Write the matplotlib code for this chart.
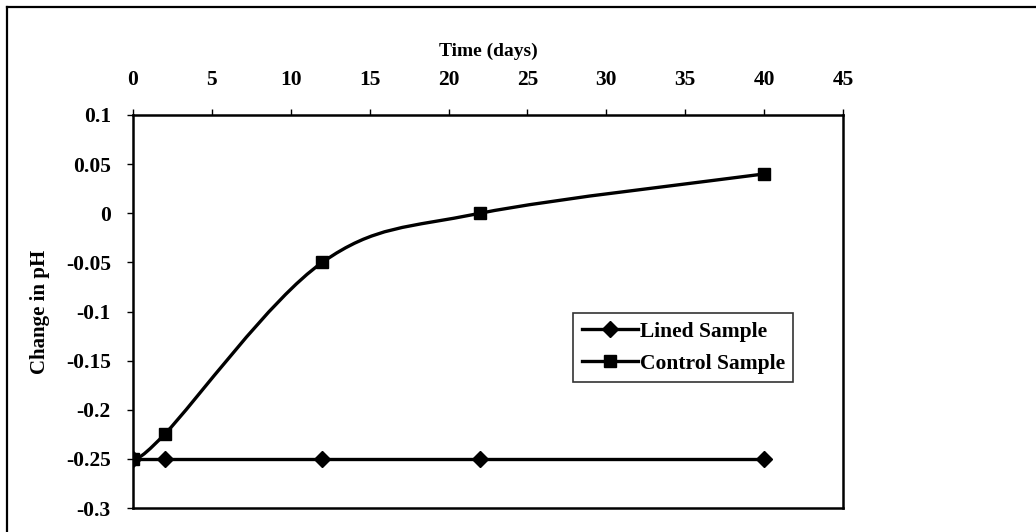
import numpy as np
import matplotlib
matplotlib.use('Agg')
import matplotlib.pyplot as plt
from matplotlib.path import Path
from matplotlib.patches import PathPatch
from matplotlib.lines import Line2D

# data
days = [0, 2, 12, 22, 40]
lined = [-0.25, -0.25, -0.25, -0.25, -0.25]
control = [-0.25, -0.225, -0.05, 0.0, 0.04]
x_ticks = [0, 5, 10, 15, 20, 25, 30, 35, 40, 45]
y_ticks = [0.1, 0.05, 0, -0.05, -0.1, -0.15, -0.2, -0.25, -0.3]
y_labels = ['0.1', '0.05', '0', '-0.05', '-0.1', '-0.15', '-0.2', '-0.25', '-0.3']

plt.rcParams['font.family'] = ['Liberation Serif', 'DejaVu Serif']
plt.rcParams['font.weight'] = 'bold'
plt.rcParams['axes.labelweight'] = 'bold'


def smooth_path(xs, ys):
    # excel-style smoothed line: catmull-rom converted to cubic beziers
    pts = np.column_stack([xs, ys]).astype(float)
    verts = [pts[0]]
    codes = [Path.MOVETO]
    n = len(pts)
    for i in range(n - 1):
        p0 = pts[i - 1] if i > 0 else pts[i]
        p1 = pts[i]
        p2 = pts[i + 1]
        p3 = pts[i + 2] if i + 2 < n else pts[i + 1]
        c1 = p1 + (p2 - p0) / 6
        c2 = p2 - (p3 - p1) / 6
        verts += [c1, c2, p2]
        codes += [Path.CURVE4] * 3
    return Path(verts, codes)


fig = plt.figure(figsize=(10.36, 5.32), dpi=100)
ax = fig.add_axes([133 / 1036, 1 - 508 / 532, 710 / 1036, 393 / 532])

ax.plot(days, lined, color='black', lw=2.4, marker='D', ms=8, label='Lined Sample', zorder=3)
ax.add_patch(PathPatch(smooth_path(days, control), facecolor='none', edgecolor='black', lw=2.4, zorder=3))
ax.plot(days, control, color='none', marker='s', ms=8, mfc='black', mec='black', zorder=4)

ax.set_xlim(0, 45)
ax.set_ylim(-0.3, 0.1)
ax.xaxis.tick_top()
ax.xaxis.set_label_position('top')
ax.set_xticks(x_ticks)
ax.set_yticks(y_ticks)
ax.set_yticklabels(y_labels)
ax.tick_params(axis='both', direction='out', length=4, width=1, labelsize=15.5)
ax.tick_params(axis='x', pad=14)
ax.tick_params(axis='y', pad=12)
ax.set_xlabel('Time (days)', fontsize=14, labelpad=10)
ax.set_ylabel('Change in pH', fontsize=15)
ax.yaxis.set_label_coords((50 - 133) / 710, 0.5)
for s in ax.spines.values():
    s.set_linewidth(1.8)

handles = [Line2D([], [], color='black', lw=2.4, marker='D', ms=8),
           Line2D([], [], color='black', lw=2.4, marker='s', ms=8)]
leg = ax.legend(handles, ['Lined Sample', 'Control Sample'], loc='upper left',
                bbox_to_anchor=((573 - 133) / 710, (508 - 313) / 393),
                fontsize=15.5, frameon=True, fancybox=False, edgecolor='black',
                handlelength=2.6, handletextpad=0.1, borderpad=0.4,
                labelspacing=0.55, borderaxespad=0)
leg.get_frame().set_linewidth(1.2)

# outer chart border (cut off at right and bottom)
fig.add_artist(Line2D([7 / 1036, 1.05], [1 - 7 / 532, 1 - 7 / 532], color='black', lw=1.6))
fig.add_artist(Line2D([7 / 1036, 7 / 1036], [1 - 7 / 532, -0.05], color='black', lw=1.6))

fig.savefig('out.png', dpi=100)
